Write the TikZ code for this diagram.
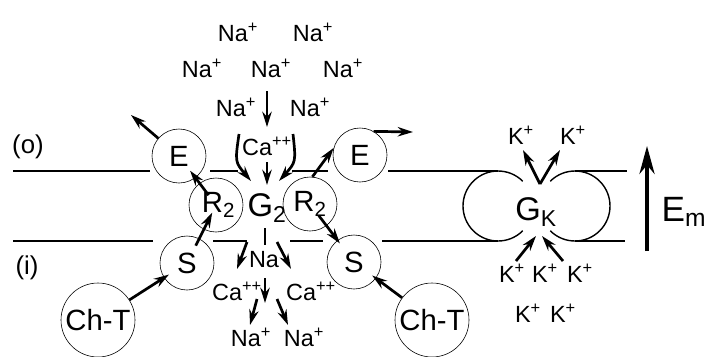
\documentclass[tikz,border=0pt]{standalone}
\usepackage{fontspec}
\setsansfont{Liberation Sans}
\usetikzlibrary{arrows.meta,calc}

\tikzset{
  cell/.style={circle,draw,line width=0.5pt,inner sep=0pt,minimum size=1.62cm,font=\sffamily\fontsize{25}{27}\selectfont},
  bigcell/.style={cell,minimum size=2.22cm,font=\sffamily\fontsize{25}{27}\selectfont},
  ion/.style={inner sep=0pt,font=\sffamily\fontsize{20}{22}\selectfont},
  big/.style={inner sep=0pt,font=\sffamily\fontsize{28}{30}\selectfont},
  flux/.style={line width=2.3pt,-{Stealth[length=13pt,width=8pt]}},
  mem/.style={line width=1.2pt}
}

\begin{document}
\begin{tikzpicture}[x=0.03cm,y=-0.03cm,font=\sffamily]
                \useasboundingbox (0,0) rectangle (706,356);
                \draw[mem] (13,171)--(150,171) (210,171)--(238,171) (292,171)--(328,171) (388,171)--(498,171) (575,171)--(627,171);
                \draw[mem] (13,241)--(153,241) (213,241)--(247,241) (290,241)--(323,241) (382,241)--(498,241) (575,241)--(625,241);
                \draw[mem] (498,206) ++(45:35) arc[start angle=45,end angle=315,radius=35];
                \draw[mem] (575,206) ++(-135:35) arc[start angle=-135,end angle=135,radius=35];

                \node[ion,font=\sffamily\fontsize{22}{24}\selectfont] (outer) at (28,147) {(o)};
                \node[ion,font=\sffamily\fontsize{22}{24}\selectfont] (inner) at (27,268) {(i)};

                \node[cell] (eL) at (179,156) {E};
                \node[cell] (rL) at (216,205) {\,R\textsubscript{2}};
                \node[cell] (sL) at (187,263) {S};
                \node[bigcell] (cL) at (98,320) {Ch-T};
                \node[cell] (eR) at (360,155) {E};
                \node[cell] (rR) at (310,204) {R\textsubscript{2}};
                \node[cell] (sR) at (354,262) {S};
                \node[bigcell] (cR) at (432,320) {Ch-T};
                \node[big] (gTwo) at (267,208) {G\textsubscript{2}};
                \node[big] (gK) at (536,212) {G\textsubscript{K}};

                \node[ion] (na1) at (238,32) {Na\textsuperscript{+}};
                \node[ion] (na2) at (313,32) {Na\textsuperscript{+}};
                \node[ion] (na3) at (202,68) {Na\textsuperscript{+}};
                \node[ion] (na4) at (271,68) {Na\textsuperscript{+}};
                \node[ion] (na5) at (343,68) {Na\textsuperscript{+}};
                \node[ion] (na6) at (236,107) {Na\textsuperscript{+}};
                \node[ion] (na7) at (310,107) {Na\textsuperscript{+}};
                \node[ion] (caTop) at (267,146) {Ca\textsuperscript{++}};
                \node[ion] (naMid) at (264,260) {Na};
                \node[ion] (caL) at (237,291) {Ca\textsuperscript{++}};
                \node[ion] (caR) at (311,291) {Ca\textsuperscript{++}};
                \node[ion] (naL) at (251,337) {Na\textsuperscript{+}};
                \node[ion] (naR) at (304,337) {Na\textsuperscript{+}};
                \node[ion] (kT1) at (521,135) {K\textsuperscript{+}};
                \node[ion] (kT2) at (573,135) {K\textsuperscript{+}};
                \node[ion] (kB1) at (512,273) {K\textsuperscript{+}};
                \node[ion] (kB2) at (545,273) {K\textsuperscript{+}};
                \node[ion] (kB3) at (580,273) {K\textsuperscript{+}};
                \node[ion] (kB4) at (528,313) {K\textsuperscript{+}};
                \node[ion] (kB5) at (563,313) {K\textsuperscript{+}};
                \node[big,font=\sffamily\fontsize{30}{32}\selectfont] (em) at (684,212) {E\textsubscript{m}};

                \coordinate (eLout) at (131,115);
                \coordinate (eRout) at (413,132);
                \coordinate (naA) at (267,91);   \coordinate (naB) at (267,127);
                \coordinate (caA) at (239,134);  \coordinate (caB) at (251,181);
                \coordinate (caC) at (293,134);  \coordinate (caD) at (279,181);
                \coordinate (caE) at (267,162);  \coordinate (caF) at (267,185);
                \coordinate (gA) at (265,228);   \coordinate (gB) at (265,245);
                \coordinate (gC) at (247,242);   \coordinate (gD) at (237,269);
                \coordinate (gE) at (277,242);   \coordinate (gF) at (291,269);
                \coordinate (naC) at (265,278);  \coordinate (naD) at (265,303);
                \coordinate (naE) at (257,299);  \coordinate (naF) at (250,325);
                \coordinate (naG) at (277,299);  \coordinate (naH) at (288,325);
                \coordinate (kV) at (540,184);   \coordinate (kL) at (523,150);   \coordinate (kR) at (560,150);
                \coordinate (kA) at (516,261);   \coordinate (kB) at (536,236);
                \coordinate (kC) at (563,261);   \coordinate (kD) at (542,236);
                \coordinate (emA) at (647,251);  \coordinate (emB) at (647,146);

                \draw[flux] (eL) -- (eLout);
                \draw[flux] (eR.60) -- (eRout);
                \draw[flux] ($(rL)!0.2!(eL)$) -- ($(rL)!0.7!(eL)$);
                \draw[flux] ($(sL)!0.3!(rL)$) -- ($(sL)!0.87!(rL)$);
                \draw[flux] (rR.85) -- (eR.165);
                \draw[flux] ($(rR)!0.2!(sR)$) -- ($(rR)!0.68!(sR)$);
                \draw[flux,shorten >=-5pt] (cL) -- (sL);
                \draw[flux,shorten >=-4pt] (cR) -- (sR);

                \draw[flux] (naA) -- (naB);
                \draw[flux] (caA) .. controls (235,162) .. (caB);
                \draw[flux] (caC) .. controls (296,162) .. (caD);
                \draw[flux] (caE) -- (caF);
                \draw[line width=1.3pt] (gA) -- (gB);
                \draw[flux] (gC) -- (gD);
                \draw[flux] (gE) -- (gF);
                \draw[flux] (naC) -- (naD);
                \draw[flux] (naE) -- (naF);
                \draw[flux] (naG) -- (naH);

                \draw[flux] (kV) -- (kL);
                \draw[flux] (kV) -- (kR);
                \draw[flux] (kA) -- (kB);
                \draw[flux] (kC) -- (kD);
                \draw[line width=2.6pt,-{Stealth[length=24pt,width=13pt]}] (emA) -- (emB);
            \end{tikzpicture}
\end{document}
